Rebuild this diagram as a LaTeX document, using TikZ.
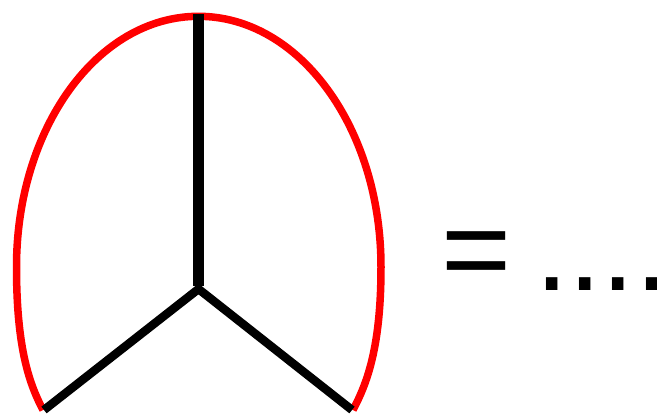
\documentclass[tikz,border=0pt]{standalone}
\usepackage{fontspec}
\setmainfont{Liberation Sans}
\tikzset{
  loopline/.style={draw=red, line width=7.5pt},
  stemline/.style={draw=black, line width=11.5pt, line cap=butt},
  legline/.style={draw=black, line width=8.5pt, line cap=butt, line join=miter},
  bigtext/.style={inner sep=0pt, font=\fontsize{120}{120}\selectfont}
}
\begin{document}
\begin{tikzpicture}[x=1pt, y=-1pt]
\useasboundingbox (0,0) rectangle (657,415);
\coordinate (top) at (198.5,16.3);
\coordinate (stemtop) at (198.5,14);
\coordinate (mid) at (198.5,289);
\coordinate (left) at (44,410);
\coordinate (right) at (352,410);
\coordinate (lred) at (43,410);
\coordinate (rred) at (353,410);
% red loop
\draw[loopline] (lred) .. controls (30,385) and (16.5,350) .. (16.5,267)
  .. controls (16.5,128) and (97.6,16.3) .. (top)
  .. controls (299.5,16.3) and (381,128) .. (381,267)
  .. controls (381,350) and (366,385) .. (rred);
% black graph
\draw[stemline] (stemtop) -- (198.5,286);
\draw[legline] (left) -- (mid) -- (right);
% text
\node[bigtext, anchor=base west] (eq) at (441,290) {=};
\node[bigtext, anchor=base west] (dots) at (535,290) {....\kern-11pt};
\end{tikzpicture}
\end{document}
